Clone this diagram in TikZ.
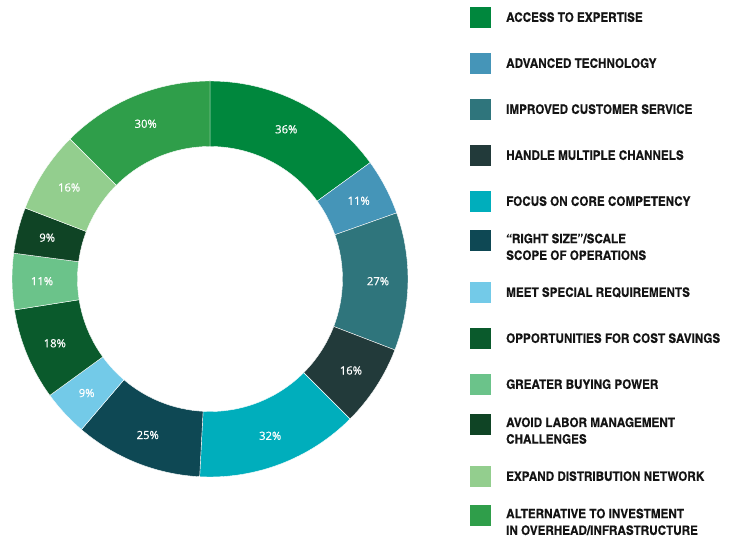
\documentclass[tikz,border=0pt]{standalone}
\usepackage{fontspec}
\setmainfont{Open Sans}
\newfontfamily\pctfont[FakeBold=0.6]{Open Sans}
\newfontfamily\legendfont[FakeStretch=1.1,FakeBold=0.4]{texgyreheroscn-bold.otf}
\usetikzlibrary{calc}
\definecolor{cA}{RGB}{0,135,61}
\definecolor{cB}{RGB}{69,149,184}
\definecolor{cC}{RGB}{47,117,124}
\definecolor{cD}{RGB}{34,58,58}
\definecolor{cE}{RGB}{0,174,188}
\definecolor{cF}{RGB}{14,72,84}
\definecolor{cG}{RGB}{115,202,232}
\definecolor{cH}{RGB}{10,90,44}
\definecolor{cI}{RGB}{107,195,138}
\definecolor{cJ}{RGB}{15,68,37}
\definecolor{cK}{RGB}{147,206,142}
\definecolor{cL}{RGB}{47,158,74}
\tikzset{
  pct/.style={text=white, font=\pctfont\fontsize{11.3}{13}\selectfont, inner sep=0pt},
  keybox/.style={minimum width=21bp, minimum height=21bp, inner sep=0pt, anchor=center},
  keytext/.style={anchor=base west, inner sep=0pt, text=black!92,
    font=\legendfont\fontsize{13}{16.7}\selectfont},
  seg/.style={draw=white, line width=0.4bp}
}
\begin{document}
\begin{tikzpicture}[x=1bp,y=1bp]
\useasboundingbox (0,0) rectangle (736,537);
\coordinate (C) at (210,258);
\def\Ro{198}
\def\Ri{132.5}
\foreach \s/\e/\m/\c/\v/\n in {
  90/36/63/cA/36/1,
  36/19.5/27.75/cB/11/2,
  19.5/-21/-0.75/cC/27/3,
  -21/-45/-33/cD/16/4,
  -45/-93/-69/cE/32/5,
  -93/-130.5/-111.75/cF/25/6,
  -130.5/-144/-137.25/cG/9/7,
  -144/-171/-157.5/cH/18/8,
  -171/-187.5/-179.25/cI/11/9,
  -187.5/-201/-194.25/cJ/9/10,
  -201/-225/-213/cK/16/11,
  -225/-270/-247.5/cL/30/12}{
  \fill[fill=\c, seg] ($(C)+(\s:\Ro)$) arc[start angle=\s, end angle=\e, radius=\Ro]
     -- ($(C)+(\e:\Ri)$) arc[start angle=\e, end angle=\s, radius=\Ri] -- cycle;
  \node[pct] (l\n) at ($(C)+(\m:168)$) {\v\%};
}
% legend: colour / square centre y / first baseline y (image coordinates) / name / text
\foreach \c/\y/\b/\n/\t in {
  cA/17.5/21.8/1/{ACCESS TO EXPERTISE},
  cB/63.5/67.8/2/{ADVANCED TECHNOLOGY},
  cC/109.5/113.8/3/{IMPROVED CUSTOMER SERVICE},
  cD/155.5/159.8/4/{HANDLE MULTIPLE CHANNELS},
  cE/201.5/205.8/5/{FOCUS ON CORE COMPETENCY},
  cF/240.5/243.2/6/{“RIGHT SIZE”/SCALE\\SCOPE OF OPERATIONS},
  cG/292.5/296.8/7/{MEET SPECIAL REQUIREMENTS},
  cH/338.5/342.8/8/{OPPORTUNITIES FOR COST SAVINGS},
  cI/384.5/388.8/9/{GREATER BUYING POWER},
  cJ/424.5/427.0/10/{AVOID LABOR MANAGEMENT\\CHALLENGES},
  cK/476.5/480.8/11/{EXPAND DISTRIBUTION NETWORK},
  cL/515.5/518.2/12/{ALTERNATIVE TO INVESTMENT\\IN OVERHEAD/INFRASTRUCTURE}}{
  \node[keybox, fill=\c] (k\n) at (480.5,537-\y) {};
  \node[keytext] (t\n) at (506,537-\b)
    {\begin{tabular}[t]{@{}l@{}}\t\end{tabular}};
}
\end{tikzpicture}
\end{document}
